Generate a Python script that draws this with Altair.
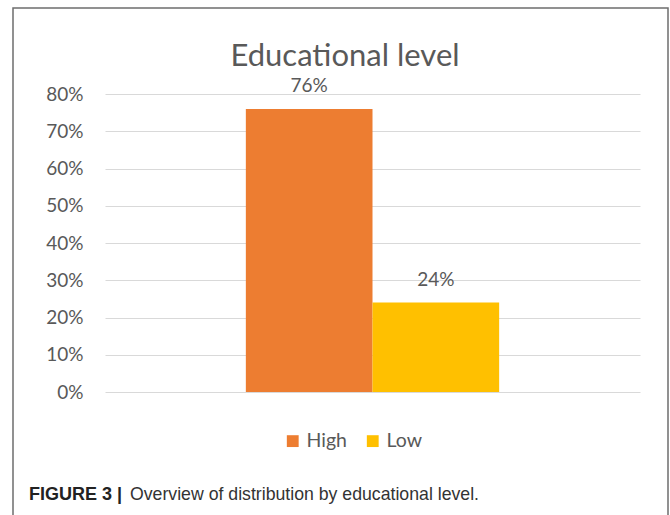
import altair as alt
import pandas as pd

category = ["Educational level", "Educational level"]
series = ["High", "Low"]
values = [0.76, 0.24]
labels = ["76%", "24%"]
colors = ["#ED7D31", "#FFC000"]
tick_values = [0, 0.1, 0.2, 0.3, 0.4, 0.5, 0.6, 0.7, 0.8]
title_text = "Educational level"
caption_bold = "FIGURE 3 |"
caption_rest = "Overview of distribution by educational level."

df = pd.DataFrame({"cat": category, "series": series, "value": values, "label": labels})

PL, PT = 105, 94
W, H = 535, 298

x_enc = alt.X("cat:N", axis=None, scale=alt.Scale(paddingOuter=0.556, paddingInner=0))
xo_enc = alt.XOffset("series:N", scale=alt.Scale(paddingInner=0, paddingOuter=0))
y_enc = alt.Y("value:Q", scale=alt.Scale(domain=[0, 0.8], nice=False),
              axis=alt.Axis(values=tick_values, tickCount=12, format=".0%",
                            domain=False, ticks=False, grid=True, gridColor="#D9D9D9",
                            gridWidth=1.2, labelFont="Lato", labelFontSize=19,
                            labelColor="#595959", labelPadding=22, labelOverlap=False,
                            title=None))

frame = alt.Chart(pd.DataFrame({"a": [0]})).mark_rect(
    fillOpacity=0, stroke="#6E6E6E", strokeWidth=1.5
).encode(x=alt.value(13 - PL), x2=alt.value(668 - PL),
         y=alt.value(8 - PT), y2=alt.value(540 - PT))

title = alt.Chart(pd.DataFrame({"t": [title_text]})).mark_text(
    align="center", baseline="alphabetic", font="Lato", fontSize=31,
    color="#595959"
).encode(x=alt.value(345 - PL), y=alt.value(66 - PT), text="t:N")

bars = alt.Chart(df).mark_bar().encode(
    x=x_enc, xOffset=xo_enc, y=y_enc,
    color=alt.Color("series:N", scale=alt.Scale(domain=series, range=colors),
                    legend=alt.Legend(orient="none", legendX=178, legendY=337,
                                      direction="horizontal", title=None,
                                      symbolType="square", symbolSize=140,
                                      symbolStrokeWidth=0, symbolOpacity=1,
                                      labelFont="Lato", labelFontSize=19.5,
                                      labelColor="#595959", labelOffset=4,
                                      columnPadding=16))
)

text = alt.Chart(df).mark_text(baseline="bottom", dy=-13, font="Lato", fontSize=19,
                               color="#595959").encode(
    x=x_enc, xOffset=xo_enc, y=y_enc, text="label:N")

cap1 = alt.Chart(pd.DataFrame({"t": [caption_bold]})).mark_text(
    align="left", baseline="alphabetic", font="Liberation Sans",
    fontWeight="bold", fontSize=18, color="#222222"
).encode(x=alt.value(29 - PL), y=alt.value(500 - PT), text="t:N")

cap2 = alt.Chart(pd.DataFrame({"t": [caption_rest]})).mark_text(
    align="left", baseline="alphabetic", font="Liberation Sans",
    fontSize=17.7, color="#333333"
).encode(x=alt.value(130 - PL), y=alt.value(500 - PT), text="t:N")

chart = alt.layer(frame, title, bars, text, cap1, cap2).properties(
    width=W, height=H,
    autosize=alt.AutoSizeParams(type="none"),
    padding={"left": PL, "top": PT, "right": 670 - PL - W, "bottom": 515 - PT - H},
).configure(background="white").configure_view(stroke=None)

chart.save("out.html", embed_options={"renderer": "svg", "actions": False})
